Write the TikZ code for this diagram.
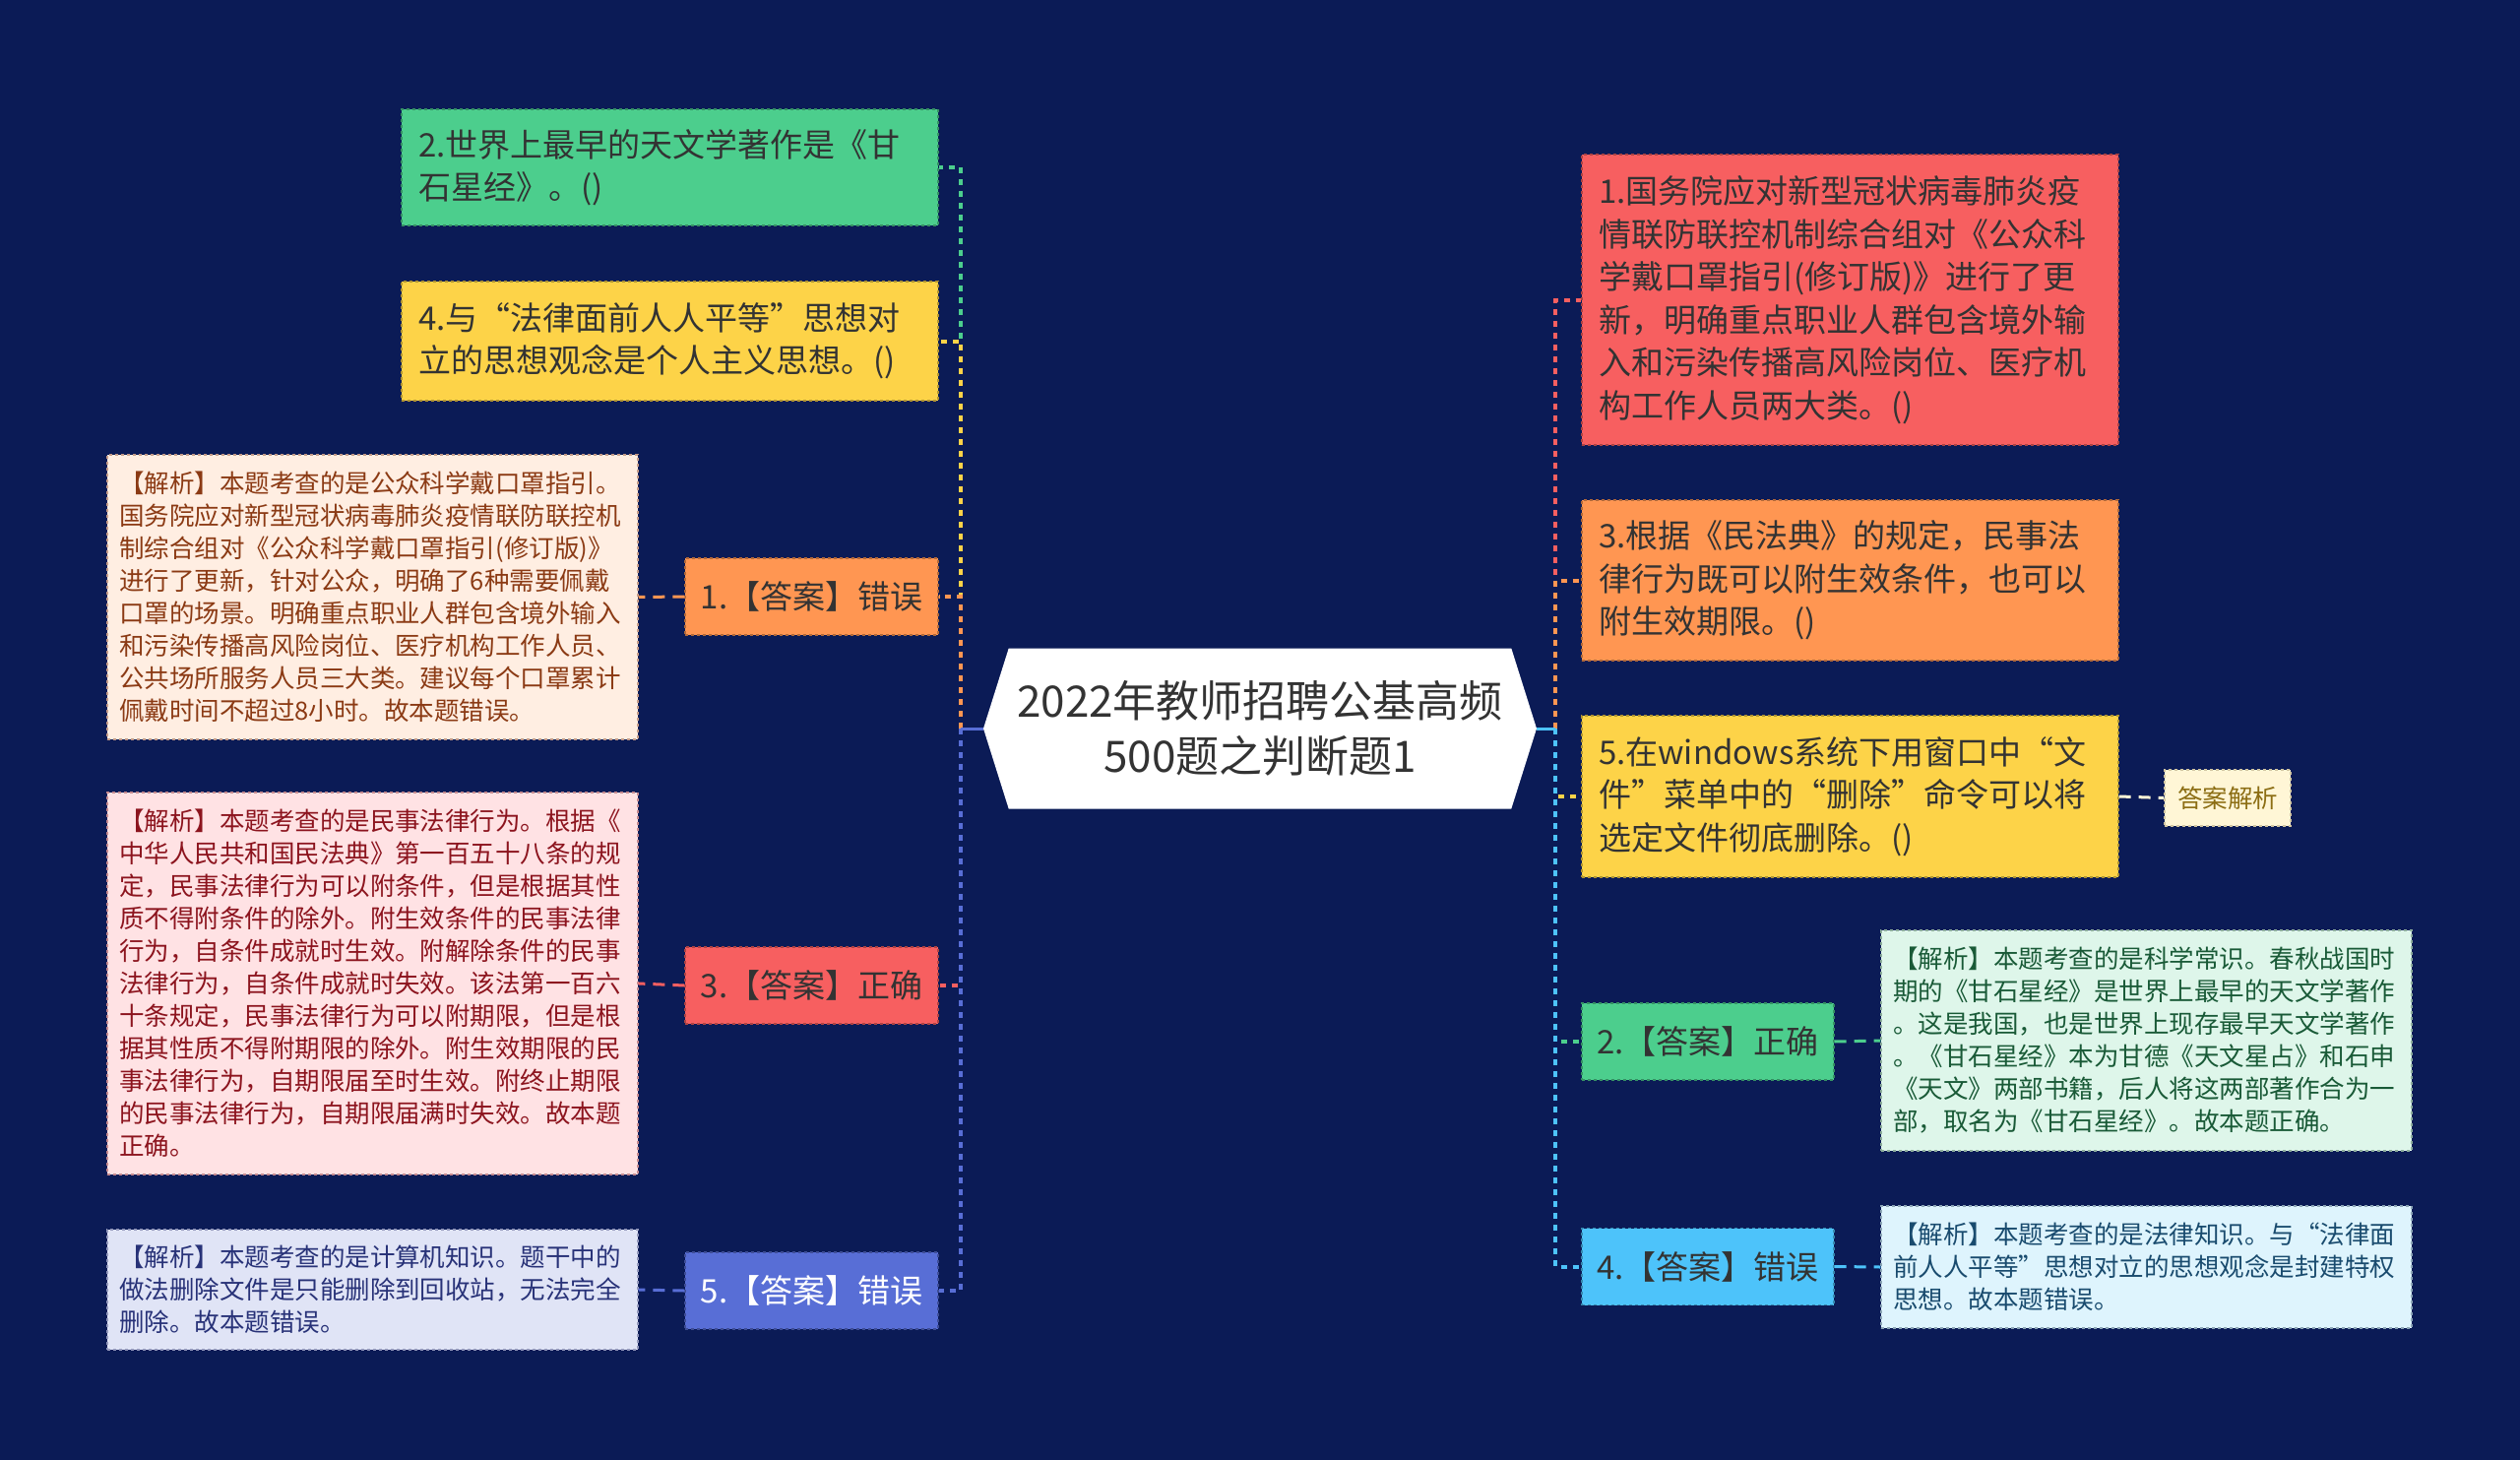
\documentclass[tikz,border=0pt]{standalone}
\usepackage{fontspec}
\setmainfont{Noto Sans CJK SC}
\usepackage{xcolor}
\usetikzlibrary{shapes.symbols}

\definecolor{bgnavy}{RGB}{11,27,86}
\definecolor{txtdark}{RGB}{51,51,51}
\definecolor{qgreen}{RGB}{76,206,141}
\definecolor{qyellow}{RGB}{253,211,72}
\definecolor{qorange}{RGB}{255,150,82}
\definecolor{qred}{RGB}{247,95,96}
\definecolor{qblue}{RGB}{88,110,214}
\definecolor{qsky}{RGB}{77,195,250}
\definecolor{notepeach}{RGB}{255,238,226}
\definecolor{notebrown}{RGB}{139,58,20}
\definecolor{notepink}{RGB}{255,226,228}
\definecolor{notewine}{RGB}{140,20,30}
\definecolor{notelav}{RGB}{224,228,246}
\definecolor{notenavy}{RGB}{40,50,120}
\definecolor{notemint}{RGB}{222,246,234}
\definecolor{noteforest}{RGB}{25,90,55}
\definecolor{notecyan}{RGB}{222,244,253}
\definecolor{noteteal}{RGB}{25,75,110}
\definecolor{tagcream}{RGB}{255,246,214}
\definecolor{tagolive}{RGB}{140,110,20}

\begin{document}
\begin{tikzpicture}[x=1pt, y=-1pt,
    topic/.style={signal, signal to=west and east, signal pointer angle=145, fill=white, minimum width=562pt, minimum height=163pt, inner sep=0pt, align=center, text=txtdark, font=\fontsize{44pt}{55.5pt}\selectfont},
    question/.style={rectangle, fill=#1, draw=#1!70!black, dashed, line width=1.2pt, inner xsep=17pt, text width=511pt, align=left, text=txtdark, font=\fontsize{33pt}{43.5pt}\selectfont},
    answer/.style={rectangle, fill=#1, draw=#1!70!black, dashed, line width=1.2pt, minimum width=257pt, minimum height=78pt, align=center, text=txtdark, font=\fontsize{33pt}{43.5pt}\selectfont},
    note/.style args={#1/#2}{rectangle, fill=#1, draw=#2!50!white, dashed, line width=1.2pt, inner xsep=12pt, text width=515pt, align=left, text=#2, font=\fontsize{25.5pt}{33pt}\selectfont},
    tag/.style={rectangle, fill=tagcream, draw=tagolive!40!white, dashed, line width=1.2pt, minimum width=128pt, minimum height=57pt, inner sep=0pt, text=tagolive, font=\fontsize{25.5pt}{33pt}\selectfont},
    branch/.style={draw=#1, line width=4pt, dash pattern=on 6pt off 6pt},
    link/.style={draw=#1, line width=3pt, dash pattern=on 12pt off 8pt}
]
% Background
\fill[bgnavy] (0,0) rectangle (2560,1483);
\useasboundingbox (0,0) rectangle (2560,1483);

% Central topic
\node[topic] (root) at (1280,740) {2022年教师招聘公基高频\\500题之判断题1};

% Left side: questions
\node[question=qgreen, minimum height=118pt] (q2) at (680.5,170) {2.世界上最早的天文学著作是《甘\\石星经》。()};
\node[question=qyellow, minimum height=121pt] (q4) at (680.5,346.5) {4.与“法律面前人人平等”思想对\\立的思想观念是个人主义思想。()};

% Left side: answers
\node[answer=qorange] (ans1) at (824.5,606) {1.【答案】错误};
\node[answer=qred] (ans3) at (824.5,1001) {3.【答案】正确};
\node[answer=qblue, text=white] (ans5) at (824.5,1311) {5.【答案】错误};

% Left side: explanations
\node[note=notepeach/notebrown, minimum height=289pt] (expl1) at (378.5,606.5) {【解析】本题考查的是公众科学戴口罩指引。\\国务院应对新型冠状病毒肺炎疫情联防联控机\\制综合组对《公众科学戴口罩指引(修订版)》\\进行了更新，针对公众，明确了6种需要佩戴\\口罩的场景。明确重点职业人群包含境外输入\\和污染传播高风险岗位、医疗机构工作人员、\\公共场所服务人员三大类。建议每个口罩累计\\佩戴时间不超过8小时。故本题错误。};
\node[note=notepink/notewine, minimum height=388pt] (expl3) at (378.5,999) {【解析】本题考查的是民事法律行为。根据《\\中华人民共和国民法典》第一百五十八条的规\\定，民事法律行为可以附条件，但是根据其性\\质不得附条件的除外。附生效条件的民事法律\\行为，自条件成就时生效。附解除条件的民事\\法律行为，自条件成就时失效。该法第一百六\\十条规定，民事法律行为可以附期限，但是根\\据其性质不得附期限的除外。附生效期限的民\\事法律行为，自期限届至时生效。附终止期限\\的民事法律行为，自期限届满时失效。故本题\\正确。};
\node[note=notelav/notenavy, minimum height=122pt] (expl5) at (378.5,1310) {【解析】本题考查的是计算机知识。题干中的\\做法删除文件是只能删除到回收站，无法完全\\删除。故本题错误。};

% Right side: questions
\node[question=qred, minimum height=295pt] (q1) at (1879.5,304.5) {1.国务院应对新型冠状病毒肺炎疫\\情联防联控机制综合组对《公众科\\学戴口罩指引(修订版)》进行了更\\新，明确重点职业人群包含境外输\\入和污染传播高风险岗位、医疗机\\构工作人员两大类。()};
\node[question=qorange, minimum height=163pt] (q3) at (1879.5,589.5) {3.根据《民法典》的规定，民事法\\律行为既可以附生效条件，也可以\\附生效期限。()};
\node[question=qyellow, minimum height=164pt] (q5) at (1879.5,809) {5.在windows系统下用窗口中“文\\件”菜单中的“删除”命令可以将\\选定文件彻底删除。()};
\node[tag] (hint5) at (2263,810.5) {答案解析};

% Right side: answers
\node[answer=qgreen, minimum width=256pt] (ans2) at (1735,1058) {2.【答案】正确};
\node[answer=qsky, minimum width=256pt] (ans4) at (1735,1286.5) {4.【答案】错误};

% Right side: explanations
\node[note=notemint/noteforest, minimum height=224pt] (expl2) at (2180.5,1057) {【解析】本题考查的是科学常识。春秋战国时\\期的《甘石星经》是世界上最早的天文学著作\\。这是我国，也是世界上现存最早天文学著作\\。《甘石星经》本为甘德《天文星占》和石申\\《天文》两部书籍，后人将这两部著作合为一\\部，取名为《甘石星经》。故本题正确。};
\node[note=notecyan/noteteal, minimum height=124pt] (expl4) at (2180.5,1287) {【解析】本题考查的是法律知识。与“法律面\\前人人平等”思想对立的思想观念是封建特权\\思想。故本题错误。};

% Branches
\coordinate (ljoint) at (976,740);
\coordinate (rjoint) at (1580,740);
\foreach \n/\c in {q2/qgreen, q4/qyellow, ans1/qorange, ans3/qred, ans5/qblue}
  \draw[branch=\c] (ljoint) |- (\n.east);
\foreach \n/\c in {q1/qred, q3/qorange, q5/qyellow, ans2/qgreen, ans4/qsky}
  \draw[branch=\c] (rjoint) |- (\n.west);
\draw[line width=3pt, qblue] (root.west) -- (ljoint);
\draw[line width=3pt, qsky] (root.east) -- (rjoint);

% Answer links
\draw[link=qorange] (ans1.west) -- (expl1.east);
\draw[link=qred] (ans3.west) -- (expl3.east);
\draw[link=qblue] (ans5.west) -- (expl5.east);
\draw[link=tagcream] (q5.east) -- (hint5.west);
\draw[link=qgreen] (ans2.east) -- (expl2.west);
\draw[link=qsky] (ans4.east) -- (expl4.west);
\end{tikzpicture}
\end{document}
